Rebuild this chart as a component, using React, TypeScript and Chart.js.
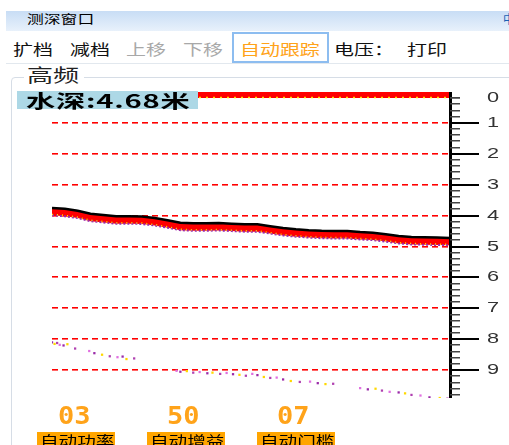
import React, { useEffect, useRef } from "react";
import { Chart, registerables } from "chart.js";

Chart.register(...registerables);

// ---- data ----
const bottomPings = [0, 10, 20, 30, 40, 50, 60, 70, 80, 90, 100, 110, 120, 130, 140, 150, 160, 170, 180, 190, 200, 210, 220, 230, 240, 250, 260, 270, 280, 290, 300, 310];
const bottomDepth = [3.75, 3.78, 3.84, 3.94, 3.98, 4.02, 4.02, 4.03, 4.08, 4.15, 4.23, 4.25, 4.25, 4.24, 4.26, 4.28, 4.28, 4.34, 4.40, 4.44, 4.47, 4.49, 4.50, 4.50, 4.53, 4.55, 4.60, 4.66, 4.69, 4.70, 4.71, 4.72];
const surfacePings = [0, 310];
const surfaceDepth = [0.1, 0.1];
const secondPings = [0, 2, 4, 6, 9, 12, 18, 29, 33, 39, 45, 51, 55, 58, 64, 97, 100, 105, 110, 115, 121, 125, 131, 136, 141, 146, 151, 156, 160, 165, 170, 175, 180, 186, 193, 201, 207, 213, 219, 240, 246, 252, 257, 263, 270, 275, 280, 287, 294, 302, 308];
const secondDepth = [8.10, 8.15, 8.12, 8.18, 8.20, 8.16, 8.30, 8.38, 8.45, 8.50, 8.55, 8.58, 8.56, 8.64, 8.62, 9.02, 9.05, 9.03, 9.08, 9.06, 9.10, 9.08, 9.12, 9.09, 9.13, 9.15, 9.18, 9.12, 9.16, 9.22, 9.25, 9.24, 9.30, 9.35, 9.38, 9.37, 9.42, 9.45, 9.44, 9.58, 9.62, 9.60, 9.66, 9.70, 9.72, 9.75, 9.80, 9.82, 9.88, 9.90, 9.92];
const depthTicks = ["0", "1", "2", "3", "4", "5", "6", "7", "8", "9"];
const toolbarItems = ["扩档", "减档", "上移", "下移", "自动跟踪", "电压：", "打印"];
const statusValues = ["03", "50", "07"];
const statusLabels = ["自动功率", "自动增益", "自动门槛"];
const waterDepth = "4.68";
const ECHO_THICKNESS = 0.24;

const CJK = "'Noto Sans CJK SC', 'Noto Sans', sans-serif";

function T(props: { x: number; y: number; size: number; color?: string; sx?: number; weight?: number; font?: string; children: any; ls?: number }) {
  return (
    <div
      style={{
        position: "absolute",
        left: props.x,
        top: props.y,
        fontSize: props.size,
        lineHeight: props.size + "px",
        color: props.color || "#000",
        fontFamily: props.font || CJK,
        fontWeight: props.weight || 400,
        letterSpacing: props.ls || 0,
        whiteSpace: "nowrap",
        transform: `scaleX(${props.sx || 1})`,
        transformOrigin: "left center",
      }}
    >
      {props.children}
    </div>
  );
}

const sounderAxis = {
  id: "sounderAxis",
  beforeDatasetsDraw(chart: any) {
    const { ctx, chartArea } = chart;
    const ys = chart.scales.y;
    ctx.save();
    for (let v = 1; v < depthTicks.length; v++) {
      const y = Math.round(ys.getPixelForValue(v));
      for (let x = chartArea.left; x < chartArea.right; x += 10) {
        const w = Math.min(6, chartArea.right - x);
        ctx.fillStyle = "#ff0000";
        ctx.fillRect(x, y - 1, w, 1);
        ctx.fillStyle = "rgba(255,0,0,0.6)";
        ctx.fillRect(x, y, w, 1);
      }
    }
    ctx.restore();
  },
  afterDraw(chart: any) {
    const { ctx, chartArea } = chart;
    const ys = chart.scales.y;
    const x0 = chartArea.right;
    ctx.save();
    ctx.fillStyle = "#000";
    ctx.fillRect(x0 - 1, chartArea.top, 3, chartArea.bottom - chartArea.top);
    for (let i = 0; i < 50; i++) {
      const v = i / 5;
      let y = Math.round(ys.getPixelForValue(v));
      if (i === 0) y += 6;
      if (i % 5 === 0 && i !== 0) {
        ctx.fillStyle = "#000";
        ctx.fillRect(x0, y - 1, 29, 2);
      } else {
        ctx.fillStyle = "#444";
        ctx.fillRect(x0, y - 1, 10, 1.5);
      }
      if (i % 5 === 0) {
        ctx.save();
        ctx.translate(x0 + 43, y);
        ctx.scale(1.45, 1);
        ctx.font = "15px 'Liberation Sans', Arial, sans-serif";
        ctx.fillStyle = "#333";
        ctx.textAlign = "center";
        ctx.textBaseline = "middle";
        ctx.fillText(depthTicks[i / 5], 0, 0);
        ctx.restore();
      }
    }
    ctx.restore();
  },
};

function Sounder() {
  const ref = useRef<HTMLCanvasElement>(null);
  useEffect(() => {
    const bottom = bottomPings.map((p, i) => ({ x: p, y: bottomDepth[i] }));
    const echoLow = bottomPings.map((p, i) => ({ x: p, y: bottomDepth[i] + ECHO_THICKNESS }));
    const echoSpeck = bottomPings.map((p, i) => ({ x: p, y: bottomDepth[i] + ECHO_THICKNESS - 0.03 }));
    const surface = surfacePings.map((p, i) => ({ x: p, y: surfaceDepth[i] }));
    const surfaceSpeck = surfacePings.map((p, i) => ({ x: p, y: surfaceDepth[i] + 0.08 }));
    const second = secondPings.map((p, i) => ({ x: p, y: secondDepth[i] }));
    const chart = new Chart(ref.current as HTMLCanvasElement, {
      type: "line",
      data: {
        datasets: [
          { data: bottom, borderColor: "#000", borderWidth: 2.5, pointRadius: 0, fill: false, order: 0, tension: 0 },
          { data: echoLow, borderColor: "#9a2aa8", borderWidth: 2, borderDash: [2, 2], pointRadius: 0, fill: 0, backgroundColor: "#ff0000", order: 2 },
          { data: echoSpeck, borderColor: "#ffe000", borderWidth: 1.5, borderDash: [1, 4], pointRadius: 0, fill: false, order: 1 },
          { data: surface, borderColor: "#ff0000", borderWidth: 6, pointRadius: 0, fill: false, order: 4 },
          { data: surfaceSpeck, borderColor: "#ffe000", borderWidth: 1.5, borderDash: [2, 5], pointRadius: 0, fill: false, order: 3 },
          {
            type: "scatter",
            data: second,
            showLine: false,
            pointStyle: "rect",
            pointRadius: 1.6,
            borderWidth: 0,
            backgroundColor: (c: any) => ["#9a2aa8", "#ffd800", "#b040b0", "#e070e0"][c.dataIndex % 4],
            order: 5,
          } as any,
        ],
      },
      options: {
        animation: false,
        responsive: false,
        events: [],
        layout: { padding: { left: 52, right: 59, top: 12, bottom: 12 } },
        plugins: { legend: { display: false }, tooltip: { enabled: false } },
        scales: {
          x: { type: "linear", min: 0, max: 310, display: false },
          y: { type: "linear", min: 0, max: 9.9, reverse: true, display: false },
        },
      },
      plugins: [sounderAxis],
    } as any);
    return () => chart.destroy();
  }, []);
  return <canvas ref={ref} width={509} height={330} style={{ position: "absolute", left: 0, top: 80, width: 509, height: 330 }} />;
}

export default function App() {
  const toolX = [13, 70, 126, 183, 240, 334, 407];
  const statusX = [37, 147, 257];
  const digitX = [58, 167, 277];
  return (
    <div style={{ position: "fixed", left: 0, top: 0, width: 509, height: 445, overflow: "hidden", background: "#fff", fontFamily: CJK }}>
      {/* title bar */}
      <div style={{ position: "absolute", left: 6, top: 11, width: 510, height: 20, background: "linear-gradient(#c8ddf5, #e8f1fb)" }} />
      <T x={27} y={13} size={12} sx={1.4}>测深窗口</T>
      <T x={503} y={13} size={12} color="#1a5fb4">中</T>
      {/* toolbar */}
      <div style={{ position: "absolute", left: 232, top: 32, width: 93, height: 27, border: "2px solid #8dbdf0" }} />
      {toolbarItems.map((t, i) => (
        <T key={t} x={toolX[i]} y={41} size={15} sx={1.33} color={i === 2 || i === 3 ? "#a8a8a8" : i === 4 ? "#ffa31a" : "#111"}>
          {t}
        </T>
      ))}
      <div style={{ position: "absolute", left: 6, top: 63, width: 510, height: 1, background: "#e2e8ee" }} />
      {/* group box */}
      <div style={{ position: "absolute", left: 11, top: 77, width: 520, height: 400, border: "1px solid #d6dde6", borderRadius: 4 }} />
      <div style={{ position: "absolute", left: 24, top: 70, width: 60, height: 12, background: "#fff" }} />
      <T x={27} y={65} size={18} sx={1.45} color="#222">高频</T>
      <Sounder />
      {/* depth readout */}
      <div style={{ position: "absolute", left: 17, top: 91, width: 181, height: 18, background: "#add8e6" }} />
      <T x={26} y={91} size={18} sx={1.62} ls={0.5} weight={700} color="#000">{"水深:" + waterDepth + "米"}</T>
      {/* status */}
      {statusValues.map((v, i) => (
        <T key={"v" + i} x={digitX[i]} y={403} size={25} sx={1.08} weight={700} font="'DejaVu Sans Mono', monospace" color="#ffa31a">
          {v}
        </T>
      ))}
      {statusLabels.map((l, i) => (
        <div key={l} style={{ position: "absolute", left: statusX[i], top: 432, width: 78, height: 20, background: "#ffa500" }} />
      ))}
      {statusLabels.map((l, i) => (
        <T key={"l" + i} x={statusX[i] + 3} y={433} size={14} sx={1.33} color="#000">
          {l}
        </T>
      ))}
    </div>
  );
}
